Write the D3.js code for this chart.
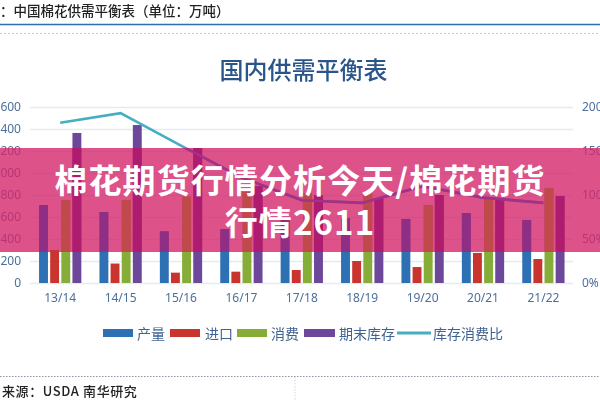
<!DOCTYPE html>
<html><head><meta charset="utf-8">
<script src="https://cdn.jsdelivr.net/npm/d3@7"></script>
<style>
html,body{margin:0;padding:0;background:#fff;overflow:hidden}
svg{display:block}
text{font-family:"Noto Sans CJK SC","Noto Sans",sans-serif}
</style></head><body>
<script>
const categories = ["13/14","14/15","15/16","16/17","17/18","18/19","19/20","20/21","21/22"];
const production = [709,645,470,490,590,590,582,636,573];
const imports = [300,177,94,103,118,200,145,273,218];
const consumption = [755,755,785,827,818,818,709,780,864];
const stocks = [1364,1436,1227,880,800,773,800,773,790];
const ratio = [182,193,156,120,94,91,110,97,91];
const leftTicks = [0,200,400,600,800,1000,1200,1400,1600];
const rightTicks = [0,50,100,150,200];
const seriesNames = ["产量","进口","消费","期末库存"];
const lineName = "库存消费比";
const seriesColors = ["#2f6fb4","#c9352f","#86ad38","#6d4799"];
const bandColors = ["#8f2f85","#c0353f","#c0484c","#ad1a6e"];
const lineColor = "#46aec2", bandLineColor = "#a0328a";
const pageTitle = "国内供需平衡表";
const header = "：中国棉花供需平衡表（单位：万吨）";
const source = "来源：USDA 南华研究";
const headline = ["棉花期货行情分析今天/棉花期货","行情2611"];

const series = [production, imports, consumption, stocks];
const W = 600, H = 400;
const svg = d3.select("body").append("svg").attr("width",W).attr("height",H);
const defs = svg.append("defs");
defs.append("filter").attr("id","soft").attr("x",-0.02).attr("y",-0.02).attr("width",1.04).attr("height",1.04)
  .append("feGaussianBlur").attr("stdDeviation",0.45);
const bandBox = {x:0,y:148,w:600,h:104};
defs.append("clipPath").attr("id","bandClip").append("rect")
  .attr("x",bandBox.x).attr("y",bandBox.y).attr("width",bandBox.w).attr("height",bandBox.h);

const x0 = d3.scaleBand().domain(categories).range([30,573.6]).paddingInner(0.3).paddingOuter(0.15);
const x1 = d3.scaleBand().domain(d3.range(4)).range([0,x0.bandwidth()]).paddingInner(0.2);
const y = d3.scaleLinear().domain([0,1600]).range([283,107]);
const y2 = d3.scaleLinear().domain([0,200]).range([283,107]);

const chart = svg.append("g").attr("filter","url(#soft)");

// header and frame
chart.append("text").attr("x",0).attr("y",16).attr("font-size",13.5).attr("font-weight",500).attr("fill","#222").text(header);
chart.append("line").attr("x1",0).attr("x2",W).attr("y1",24.5).attr("y2",24.5).attr("stroke","#2a6db0").attr("stroke-width",1.4);
chart.append("line").attr("x1",0).attr("x2",W).attr("y1",33.5).attr("y2",33.5).attr("stroke","#c8c8c8").attr("stroke-dasharray","2 2");
chart.append("line").attr("x1",0).attr("x2",W).attr("y1",376.5).attr("y2",376.5).attr("stroke","#8a93a0").attr("stroke-dasharray","1.5 1.5");
chart.append("line").attr("x1",295).attr("x2",295).attr("y1",377).attr("y2",400).attr("stroke","#d5d5d5").attr("stroke-dasharray","1.5 1.5");
chart.append("text").attr("x",2).attr("y",396).attr("font-size",13).attr("font-weight",500).attr("letter-spacing",0.6).attr("fill","#222").text(source);
chart.append("text").attr("x",303.5).attr("y",79).attr("text-anchor","middle").attr("font-size",24).attr("font-weight",500).attr("fill","#2a5488").text(pageTitle);

// axes
const gridLeft = 30, gridRight = 573;
const leftAxis = chart.append("g").attr("transform",`translate(${gridLeft},0)`)
  .call(d3.axisLeft(y).tickValues(leftTicks).tickSize(-(gridRight-gridLeft)).tickPadding(9).tickFormat(d3.format("d")));
leftAxis.select(".domain").remove();
leftAxis.selectAll("line").attr("stroke","#e4ebf3").attr("stroke-width",1.5);
leftAxis.selectAll("text").attr("font-size",12).attr("fill","#4c6f9a").attr("style",'font-family:"Noto Sans"');

const rightAxis = chart.append("g").attr("transform",`translate(582,0)`)
  .call(d3.axisRight(y2).tickValues(rightTicks).tickSize(0).tickPadding(0).tickFormat(d=>d+"%"));
rightAxis.select(".domain").remove();
rightAxis.selectAll("text").attr("font-size",12).attr("fill","#4c6f9a").attr("style",'font-family:"Noto Sans"');

const bottomAxis = chart.append("g").attr("transform","translate(0,283)")
  .call(d3.axisBottom(x0).tickSize(0).tickPadding(10));
bottomAxis.select(".domain").remove();
bottomAxis.selectAll("text").attr("font-size",12).attr("fill","#4c6f9a").attr("style",'font-family:"Noto Sans"');

// marks
const line = d3.line().x((d,i)=>x0(categories[i])+x0.bandwidth()/2).y(d=>y2(d));
function drawMarks(g, colors, lc){
  series.forEach((vals,s)=>{
    g.append("g").selectAll("rect").data(vals).join("rect")
      .attr("x",(d,i)=>x0(categories[i])+x1(s))
      .attr("width",x1.bandwidth())
      .attr("y",d=>y(d))
      .attr("height",d=>y(0)-y(d))
      .attr("fill",colors[s]);
  });
  g.append("path").datum(ratio).attr("d",line).attr("fill","none").attr("stroke",lc).attr("stroke-width",2.6);
}
drawMarks(chart.append("g"), seriesColors, lineColor);

// legend
const legendItems = [
  {name:seriesNames[0],c:seriesColors[0],x:103,tx:137,w:30},
  {name:seriesNames[1],c:seriesColors[1],x:170,tx:205,w:30},
  {name:seriesNames[2],c:seriesColors[2],x:237,tx:271,w:30},
  {name:seriesNames[3],c:seriesColors[3],x:304,tx:339,w:31}
];
const legend = chart.append("g");
legendItems.forEach(it=>{
  legend.append("rect").attr("x",it.x).attr("y",329).attr("width",it.w).attr("height",8).attr("fill",it.c);
  legend.append("text").attr("x",it.tx).attr("y",339).attr("font-size",14).attr("fill","#3f6290").text(it.name);
});
legend.append("line").attr("x1",397).attr("x2",431).attr("y1",333).attr("y2",333).attr("stroke",lineColor).attr("stroke-width",3);
legend.append("text").attr("x",433).attr("y",339).attr("font-size",14).attr("fill","#3f6290").text(lineName);

// pink banner
svg.append("rect").attr("x",bandBox.x).attr("y",bandBox.y).attr("width",bandBox.w).attr("height",bandBox.h)
  .attr("fill","rgb(211,39,107)").attr("fill-opacity",0.8);
drawMarks(svg.append("g").attr("clip-path","url(#bandClip)").append("g").attr("filter","url(#soft)"), bandColors, bandLineColor);

const head = svg.append("g").attr("text-anchor","middle").attr("fill","#fff").attr("font-weight",700);
head.append("text").attr("x",300).attr("y",193).attr("font-size",33).attr("letter-spacing",1.1).text(headline[0]);
head.append("text").attr("x",300).attr("y",235).attr("font-size",33).attr("letter-spacing",1.1).text(headline[1]);
</script>
</body></html>
